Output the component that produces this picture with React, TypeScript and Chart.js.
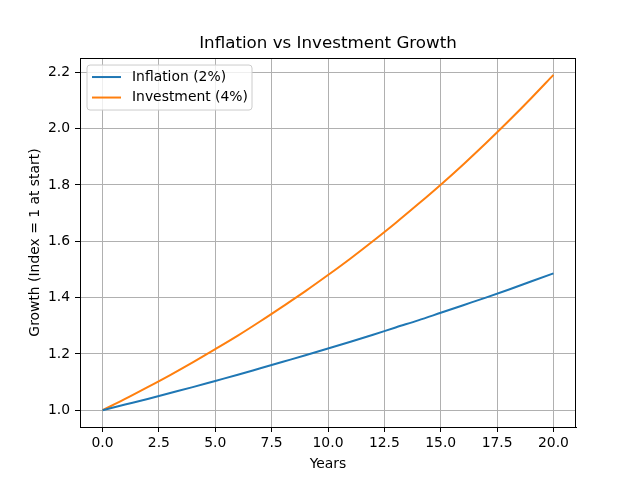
import React, { useEffect, useRef } from "react";
import { Chart, registerables } from "chart.js";

Chart.register(...registerables);

const years = [0, 1, 2, 3, 4, 5, 6, 7, 8, 9, 10, 11, 12, 13, 14, 15, 16, 17, 18, 19, 20];
const inflation = [1.0, 1.02, 1.04, 1.061, 1.082, 1.104, 1.126, 1.149, 1.172, 1.195, 1.219, 1.243, 1.268, 1.294, 1.319, 1.346, 1.373, 1.4, 1.428, 1.457, 1.486];
const investment = [1.0, 1.04, 1.082, 1.125, 1.17, 1.217, 1.265, 1.316, 1.369, 1.423, 1.48, 1.539, 1.601, 1.665, 1.732, 1.801, 1.873, 1.948, 2.026, 2.107, 2.191];
const xTicks = [0, 2.5, 5, 7.5, 10, 12.5, 15, 17.5, 20];
const yTicks = [1.0, 1.2, 1.4, 1.6, 1.8, 2.0, 2.2];

const FONT = "'DejaVu Sans', sans-serif";

const framePlugin = {
  id: "frame",
  afterDatasetsDraw(chart: any) {
    const { ctx, chartArea } = chart;
    ctx.save();
    ctx.strokeStyle = "#000";
    ctx.lineWidth = 1;
    ctx.strokeRect(
      Math.round(chartArea.left) + 0.5,
      Math.round(chartArea.top) + 0.5,
      Math.round(chartArea.right - chartArea.left) - 1,
      Math.round(chartArea.bottom - chartArea.top)
    );
    // legend
    const x0 = chartArea.left + 7;
    const y0 = chartArea.top + 7;
    const w = 165;
    const h = 45;
    const r = 3;
    ctx.beginPath();
    ctx.moveTo(x0 + r, y0);
    ctx.lineTo(x0 + w - r, y0);
    ctx.quadraticCurveTo(x0 + w, y0, x0 + w, y0 + r);
    ctx.lineTo(x0 + w, y0 + h - r);
    ctx.quadraticCurveTo(x0 + w, y0 + h, x0 + w - r, y0 + h);
    ctx.lineTo(x0 + r, y0 + h);
    ctx.quadraticCurveTo(x0, y0 + h, x0, y0 + h - r);
    ctx.lineTo(x0, y0 + r);
    ctx.quadraticCurveTo(x0, y0, x0 + r, y0);
    ctx.closePath();
    ctx.fillStyle = "rgba(255,255,255,0.8)";
    ctx.fill();
    ctx.strokeStyle = "#cccccc";
    ctx.lineWidth = 1;
    ctx.stroke();
    ctx.font = `13.9px ${FONT}`;
    ctx.textBaseline = "middle";
    ctx.textAlign = "left";
    chart.data.datasets.forEach((ds: any, i: number) => {
      const yy = y0 + 12 + i * 20.5;
      ctx.strokeStyle = ds.borderColor;
      ctx.lineWidth = 2;
      ctx.beginPath();
      ctx.moveTo(x0 + 5, yy);
      ctx.lineTo(x0 + 34, yy);
      ctx.stroke();
      ctx.fillStyle = "#000";
      ctx.fillText(ds.label, x0 + 45, yy);
    });
    ctx.restore();
  },
};

export default function App() {
  const ref = useRef<HTMLCanvasElement>(null);
  useEffect(() => {
    document.body.style.margin = "0";
    const chart = new Chart(ref.current!, {
      type: "line",
      data: {
        labels: years,
        datasets: [
          {
            label: "Inflation (2%)",
            data: years.map((x, i) => ({ x, y: inflation[i] })),
            borderColor: "#1f77b4",
            backgroundColor: "#1f77b4",
            borderWidth: 2,
            pointRadius: 0,
            cubicInterpolationMode: "monotone",
          },
          {
            label: "Investment (4%)",
            data: years.map((x, i) => ({ x, y: investment[i] })),
            borderColor: "#ff7f0e",
            backgroundColor: "#ff7f0e",
            borderWidth: 2,
            pointRadius: 0,
            cubicInterpolationMode: "monotone",
          },
        ],
      },
      options: {
        animation: false,
        responsive: false,
        devicePixelRatio: 1,
        layout: { padding: { left: 16, right: 0, top: 0, bottom: 0 } },
        plugins: {
          legend: { display: false },
          tooltip: { enabled: false },
          title: {
            display: true,
            text: "Inflation vs Investment Growth",
            color: "#000",
            font: { family: FONT, size: 16.7, weight: "normal", lineHeight: 1.2 },
            padding: { top: 34, bottom: 4 },
          },
        },
        scales: {
          x: {
            type: "linear",
            min: -1,
            max: 21,
            afterFit: (s: any) => {
              s.height = 53;
            },
            afterBuildTicks: (s: any) => {
              s.ticks = xTicks.map((v) => ({ value: v }));
            },
            ticks: {
              color: "#000",
              font: { family: FONT, size: 13.9 },
              padding: 3,
              maxRotation: 0,
              autoSkip: false,
              callback: (v: any) => Number(v).toFixed(1),
            },
            grid: {
              color: "#b0b0b0",
              lineWidth: 1,
              tickColor: "#000",
              tickLength: 5,
            },
            border: { display: true, color: "#000", width: 1 },
            title: {
              display: true,
              text: "Years",
              color: "#000",
              font: { family: FONT, size: 13.9 },
              padding: { top: 2, bottom: 7 },
            },
          },
          y: {
            type: "linear",
            min: 0.9404,
            max: 2.2507,
            afterFit: (s: any) => {
              s.width = 64;
            },
            afterBuildTicks: (s: any) => {
              s.ticks = yTicks.map((v) => ({ value: v }));
            },
            ticks: {
              color: "#000",
              font: { family: FONT, size: 13.9 },
              padding: 5,
              autoSkip: false,
              callback: (v: any) => Number(v).toFixed(1),
            },
            grid: {
              color: "#b0b0b0",
              lineWidth: 1,
              tickColor: "#000",
              tickLength: 5,
            },
            border: { display: true, color: "#000", width: 1 },
            title: {
              display: true,
              text: "Growth (Index = 1 at start)",
              color: "#000",
              font: { family: FONT, size: 13.9 },
              padding: { top: 11, bottom: 0 },
            },
          },
          yRight: {
            type: "linear",
            position: "right",
            display: true,
            min: 0,
            max: 1,
            afterFit: (s: any) => {
              s.width = 64;
            },
            ticks: { display: false },
            grid: { display: false, drawTicks: false },
            border: { display: false },
          },
        },
      } as any,
      plugins: [framePlugin],
    });
    return () => chart.destroy();
  }, []);
  return (
    <div style={{ position: "absolute", left: 0, top: 0, width: 640, height: 480, background: "#fff" }}>
      <canvas ref={ref} width={640} height={480} style={{ width: 640, height: 480 }} />
    </div>
  );
}
